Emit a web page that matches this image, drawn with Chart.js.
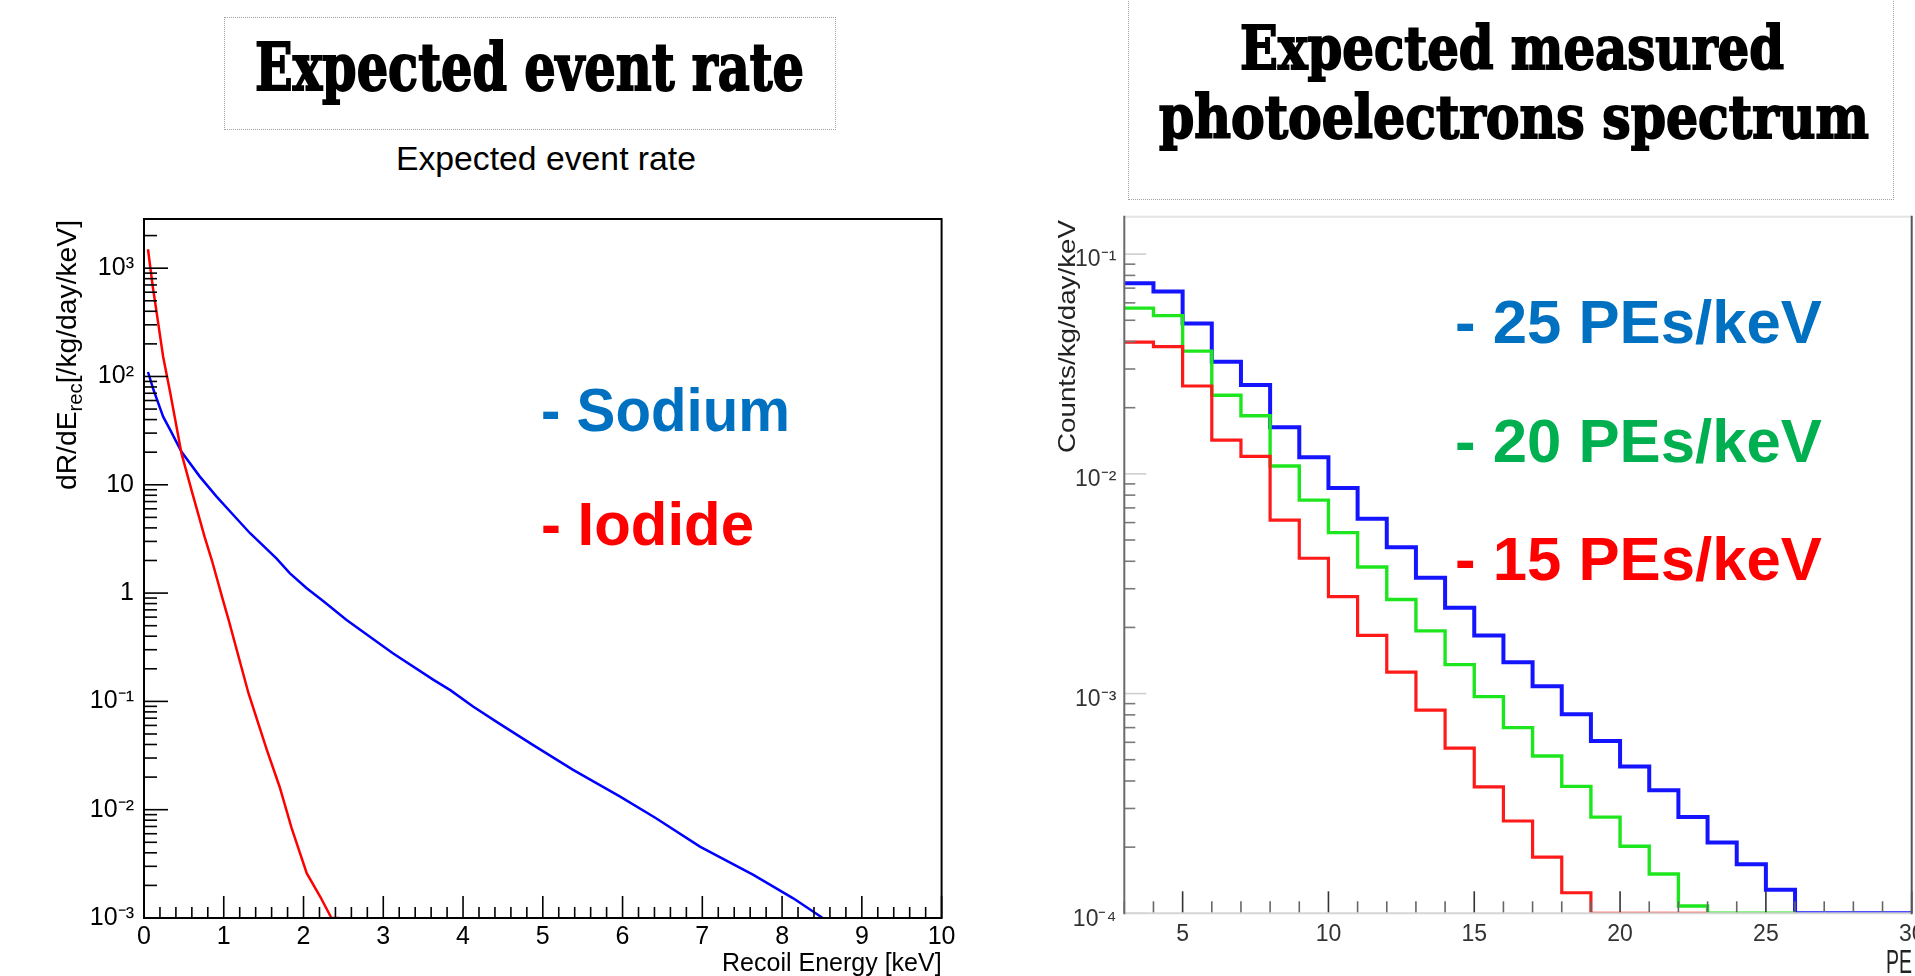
<!DOCTYPE html>
<html><head><meta charset="utf-8">
<script src="https://cdn.jsdelivr.net/npm/chart.js@4.4.1/dist/chart.umd.min.js"></script>
<style>
html,body{margin:0;padding:0;background:#fff;}
body{width:1915px;height:976px;overflow:hidden;position:relative;}
.t{position:absolute;white-space:nowrap;line-height:1;transform-origin:0 0;margin:0;padding:0;}
.big{font-family:"DejaVu Serif Condensed","DejaVu Serif",serif;font-weight:bold;font-stretch:condensed;color:#000;-webkit-text-stroke:1.6px #000;}
.leg{font-family:"Liberation Sans",Arial,sans-serif;font-weight:bold;}
.root{font-family:"Liberation Sans",Arial,sans-serif;color:#000;}
.box{position:absolute;border:1px dotted #a0a0a0;box-sizing:border-box;}
canvas{position:absolute;display:block;}
</style></head><body>
<div class="box" style="left:224px;top:17px;width:612px;height:113px"></div>
<div class="box" style="left:1128px;top:-3px;width:766px;height:203px"></div>
<canvas id="c1" width="960" height="830" style="left:0;top:180px"></canvas>
<canvas id="c2" width="1000" height="830" style="left:960px;top:180px"></canvas>

<div class="t big" id="tt1">Expected event rate</div>
<div class="t big" id="tt2a">Expected measured</div>
<div class="t big" id="tt2b">photoelectrons spectrum</div>
<div class="t root" id="sub1">Expected event rate</div>
<div class="t root" id="yt1">dR/dE<span style="font-size:0.72em;position:relative;top:0.32em">rec</span>[/kg/day/keV]</div>
<div class="t root" id="yt2" style="color:#222">Counts/kg/day/keV</div>
<div class="t root" id="xt2" style="color:#222">PE</div>
<div class="t leg" id="lg1" style="color:#0070C0">- Sodium</div>
<div class="t leg" id="lg2" style="color:#FF0000">- Iodide</div>
<div class="t leg" id="lg3" style="color:#0070C0">- 25 PEs/keV</div>
<div class="t leg" id="lg4" style="color:#00B050">- 20 PEs/keV</div>
<div class="t leg" id="lg5" style="color:#FF0000">- 15 PEs/keV</div>

<script>
// ---------- data ----------
const sodiumEnergy = [0.05, 0.12, 0.18, 0.24, 0.33, 0.47, 0.70, 0.91, 1.12, 1.33, 1.66, 1.83, 2.04, 2.25, 2.54, 3.12, 3.63, 3.84, 4.13, 4.46, 4.88, 5.38, 5.97, 6.42, 6.97, 7.64, 8.14, 8.51];
const sodiumRate   = [110, 75, 56.5, 42.6, 32, 20.2, 11.9, 7.77, 5.26, 3.57, 2.09, 1.52, 1.107, 0.84, 0.565, 0.278, 0.158, 0.127, 0.0893, 0.062, 0.0395, 0.0233, 0.0132, 0.00834, 0.00456, 0.0025, 0.00152, 0.001];
const iodideEnergy = [0.05, 0.11, 0.16, 0.24, 0.33, 0.47, 0.60, 0.76, 0.85, 0.99, 1.06, 1.31, 1.54, 1.70, 1.85, 2.04, 2.21, 2.35, 2.45];
const iodideRate   = [1495, 675, 383, 152, 70, 19.5, 8.7, 3.3, 2.02, 0.86, 0.57, 0.119, 0.0356, 0.0163, 0.0068, 0.00259, 0.00157, 0.001, 0.001];

const peEdges = [3,4,5,6,7,8,9,10,11,12,13,14,15,16,17,18,19,20,21,22,23,24,25,26,27,28,29,30];
const counts25 = [0.0736, 0.0676, 0.0483, 0.0324, 0.0254, 0.0163, 0.0119, 0.00863, 0.00625, 0.00463, 0.00337, 0.00246, 0.00184, 0.00139, 0.00108, 0.000805, 0.000608, 0.000466, 0.000363, 0.000274, 0.00021, 0.000167, 0.000128, 0.0001, 0.0001, 0.0001, 0.0001];
const counts20 = [0.0568, 0.0525, 0.0362, 0.0228, 0.01837, 0.01086, 0.00759, 0.0054, 0.00377, 0.00268, 0.00193, 0.001355, 0.000969, 0.0007, 0.00052, 0.000378, 0.000274, 0.000202, 0.000151, 0.000108, 0.0001, 0.0001, 0.0001];
const counts15 = [0.0398, 0.0379, 0.0251, 0.01425, 0.0120, 0.00616, 0.00413, 0.00276, 0.00184, 0.001253, 0.000841, 0.000564, 0.000376, 0.000263, 0.00018, 0.000124, 0.0001, 0.0001, 0.0001, 0.0001];

const leftXTickLabels  = ['0','1','2','3','4','5','6','7','8','9','10'];
const leftYDecades     = [-3, -2, -1, 0, 1, 2, 3];
const leftYTickLabels  = ['10\u207B\u00B3','10\u207B\u00B2','10\u207B\u00B9','1','10','10\u00B2','10\u00B3'];
const rightXTickLabels = ['5','10','15','20','25','30'];
const rightYDecades    = [-4, -3, -2, -1];
const rightYTickLabels = ['10\u207B\u2074','10\u207B\u00B3','10\u207B\u00B2','10\u207B\u00B9'];

// ---------- helpers ----------
function xy(xs, ys) { return ys.map((v, i) => ({x: xs[i], y: v})); }
function hist(edges, vals) {
  const pts = vals.map((v, i) => ({x: edges[i], y: v}));
  pts.push({x: edges[vals.length], y: vals[vals.length - 1]});
  return pts;
}
function decadeLabel(decades, labels) {
  return function(v) {
    const lg = Math.log10(v);
    if (Math.abs(lg - Math.round(lg)) > 1e-6) return '';
    const i = decades.indexOf(Math.round(lg));
    return i >= 0 ? labels[i] : '';
  };
}
function intLabel(labels) {
  return function(v) {
    if (Math.abs(v - Math.round(v)) > 1e-6) return '';
    const s = String(Math.round(v));
    return labels.indexOf(s) >= 0 ? s : '';
  };
}
function axesPlugin(cfg) {
  return {
    id: 'rootAxes' + cfg.name,
    afterDatasetsDraw(chart) {
      const ctx = chart.ctx, a = chart.chartArea;
      const xs = chart.scales.x, ys = chart.scales.y;
      ctx.save();
      ctx.lineCap = 'butt';
      xs.ticks.forEach(t => {
        const v = t.value;
        const isInt = Math.abs(v - Math.round(v)) < 1e-6;
        const major = isInt && Math.round(v) % cfg.xMajorEvery === 0;
        const px = xs.getPixelForValue(v);
        if (px < a.left - 0.5 || px > a.right + 0.5) return;
        ctx.strokeStyle = major ? cfg.xMajorColor : cfg.xMinorColor;
        ctx.lineWidth = cfg.tickWidth;
        ctx.beginPath();
        ctx.moveTo(px, a.bottom);
        ctx.lineTo(px, a.bottom - (major ? cfg.xMajorLen : cfg.xMinorLen));
        ctx.stroke();
      });
      ys.ticks.forEach(t => {
        const v = t.value;
        const lg = Math.log10(v);
        let major = Math.abs(lg - Math.round(lg)) < 1e-6;
        if (!major) {
          const m = v / Math.pow(10, Math.floor(lg + 1e-9));
          if (Math.abs(m - Math.round(m)) > 1e-6) return;
        }
        const py = ys.getPixelForValue(v);
        if (py < a.top - 0.5 || py > a.bottom + 0.5) return;
        ctx.strokeStyle = major ? cfg.yMajorColor : cfg.yMinorColor;
        ctx.lineWidth = cfg.tickWidth;
        ctx.beginPath();
        ctx.moveTo(a.left, py);
        ctx.lineTo(a.left + (major ? cfg.yMajorLen : cfg.yMinorLen), py);
        ctx.stroke();
      });
      const f = cfg.frame;
      const side = (c, w, x1, y1, x2, y2) => { ctx.strokeStyle = c; ctx.lineWidth = w; ctx.beginPath(); ctx.moveTo(x1, y1); ctx.lineTo(x2, y2); ctx.stroke(); };
      side(f.top[0], f.top[1], a.left, a.top, a.right, a.top);
      side(f.bottom[0], f.bottom[1], a.left, a.bottom, a.right, a.bottom);
      side(f.right[0], f.right[1], a.right, a.top - 1, a.right, a.bottom + 1);
      side(f.left[0], f.left[1], a.left, a.top - 1, a.left, a.bottom + 1);
      ctx.restore();
    }
  };
}
const tickFont = {family: "'Liberation Sans', Arial, sans-serif", size: 25};

// ---------- left chart ----------
new Chart(document.getElementById('c1'), {
  type: 'line',
  data: {
    datasets: [
      {label: 'Iodide', data: xy(iodideEnergy, iodideRate), borderColor: '#ff0000', borderWidth: 2.5, pointRadius: 0, tension: 0, order: 0},
      {label: 'Sodium', data: xy(sodiumEnergy, sodiumRate), borderColor: '#0000ff', borderWidth: 2.5, pointRadius: 0, tension: 0, order: 1}
    ]
  },
  options: {
    responsive: false, animation: false,
    layout: {padding: {left: 0, top: 39, right: 18, bottom: 0}},
    plugins: {legend: {display: false}, tooltip: {enabled: false}},
    scales: {
      x: {
        type: 'linear', min: 0, max: 10,
        grid: {display: false, drawTicks: false}, border: {display: false},
        ticks: {stepSize: 0.2, maxTicksLimit: 200, autoSkip: false, maxRotation: 0, padding: 4.5, color: '#000', font: tickFont, callback: intLabel(leftXTickLabels)},
        title: {display: true, text: 'Recoil Energy [keV]', align: 'end', color: '#000', font: {family: "'Liberation Sans', Arial, sans-serif", size: 25}, padding: {top: 0, bottom: 31}},
        afterFit: s => { s.height = 92; }
      },
      y: {
        type: 'logarithmic', min: 0.001, max: 2845,
        grid: {display: false, drawTicks: false}, border: {display: false},
        ticks: {autoSkip: false, padding: 10, color: '#000', font: tickFont, callback: decadeLabel(leftYDecades, leftYTickLabels)},
        afterFit: s => { s.width = 144; }
      }
    }
  },
  plugins: [axesPlugin({
    name: 'L', tickWidth: 1.6,
    xMajorEvery: 1, xMajorLen: 22, xMinorLen: 11, xMajorColor: '#000', xMinorColor: '#000',
    yMajorLen: 24, yMinorLen: 13, yMajorColor: '#000', yMinorColor: '#000',
    frame: {top: ['#000', 2], bottom: ['#000', 2], left: ['#000', 2], right: ['#000', 2]}
  })]
});

// ---------- right chart ----------
const tickFont2 = {family: "'Liberation Sans', Arial, sans-serif", size: 23};
new Chart(document.getElementById('c2'), {
  type: 'line',
  data: {
    datasets: [
      {label: '15 PEs/keV', data: hist(peEdges, counts15), stepped: 'before', borderColor: '#ff1a1a', borderWidth: 3.2, pointRadius: 0, order: 0},
      {label: '20 PEs/keV', data: hist(peEdges, counts20), stepped: 'before', borderColor: '#1ee61e', borderWidth: 3.4, pointRadius: 0, order: 1},
      {label: '25 PEs/keV', data: hist(peEdges, counts25), stepped: 'before', borderColor: '#1414ff', borderWidth: 4, pointRadius: 0, order: 2}
    ]
  },
  options: {
    responsive: false, animation: false,
    layout: {padding: {left: 0, top: 36.7, right: 48.3, bottom: 0}},
    plugins: {legend: {display: false}, tooltip: {enabled: false}},
    scales: {
      x: {
        type: 'linear', min: 3, max: 30,
        grid: {display: false, drawTicks: false}, border: {display: false},
        ticks: {stepSize: 1, maxTicksLimit: 200, autoSkip: false, maxRotation: 0, padding: 8, color: '#333', font: tickFont2, callback: intLabel(rightXTickLabels)},
        afterFit: s => { s.height = 96.7; }
      },
      y: {
        type: 'logarithmic', min: 0.0001, max: 0.148,
        grid: {display: false, drawTicks: false}, border: {display: false},
        ticks: {autoSkip: false, padding: 8, labelOffset: 6, color: '#333', font: tickFont2, callback: decadeLabel(rightYDecades, rightYTickLabels)},
        afterFit: s => { s.width = 164.3; }
      }
    }
  },
  plugins: [axesPlugin({
    name: 'R', tickWidth: 1.6,
    xMajorEvery: 5, xMajorLen: 22, xMinorLen: 12, xMajorColor: '#333', xMinorColor: '#666',
    yMajorLen: 22, yMinorLen: 11, yMajorColor: '#cfcfcf', yMinorColor: '#7a7a7a',
    frame: {top: ['#e4e4e4', 2], bottom: ['#d6d6d6', 2], left: ['#6a6a6a', 2], right: ['#555', 2]}
  })]
});

// ---------- text placement ----------
function place(id, left, baseline, size, width, sy) {
  sy = sy || 1;
  const el = document.getElementById(id);
  el.style.fontSize = size + 'px';
  el.style.left = left + 'px';
  el.style.top = (baseline - 0.846 * size * sy) + 'px';
  const w = el.getBoundingClientRect().width;
  el.style.transform = 'scaleX(' + (width / w) + ') scaleY(' + sy + ')';
}
function placeC(id, cx, baseline, size, width, sy) { place(id, cx - width / 2, baseline, size, width, sy); }
function placeRot(id, xBase, yStart, size, length) {
  const el = document.getElementById(id);
  el.style.fontSize = size + 'px';
  const w = el.getBoundingClientRect().width;
  el.style.left = (xBase - 0.846 * size) + 'px';
  el.style.top = yStart + 'px';
  el.style.transform = 'rotate(-90deg) scaleX(' + (length / w) + ')';
}
placeC('tt1', 529.2, 90, 58, 549, 1.12);
placeC('tt2a', 1512, 68, 54, 544, 1.12);
placeC('tt2b', 1514, 137, 54, 710, 1.12);
placeC('sub1', 545.5, 170, 33, 300);
placeRot('yt1', 77, 490, 28, 270);
placeRot('yt2', 1075, 453, 24, 233);
place('xt2', 1886, 972, 26, 26, 1.25);
place('lg1', 541, 430.7, 60.5, 249);
place('lg2', 541, 545, 60.5, 213);
place('lg3', 1455, 343.3, 60.5, 367);
place('lg4', 1455, 461.7, 60.5, 367);
place('lg5', 1455, 580, 60.5, 367);
</script>
</body></html>
